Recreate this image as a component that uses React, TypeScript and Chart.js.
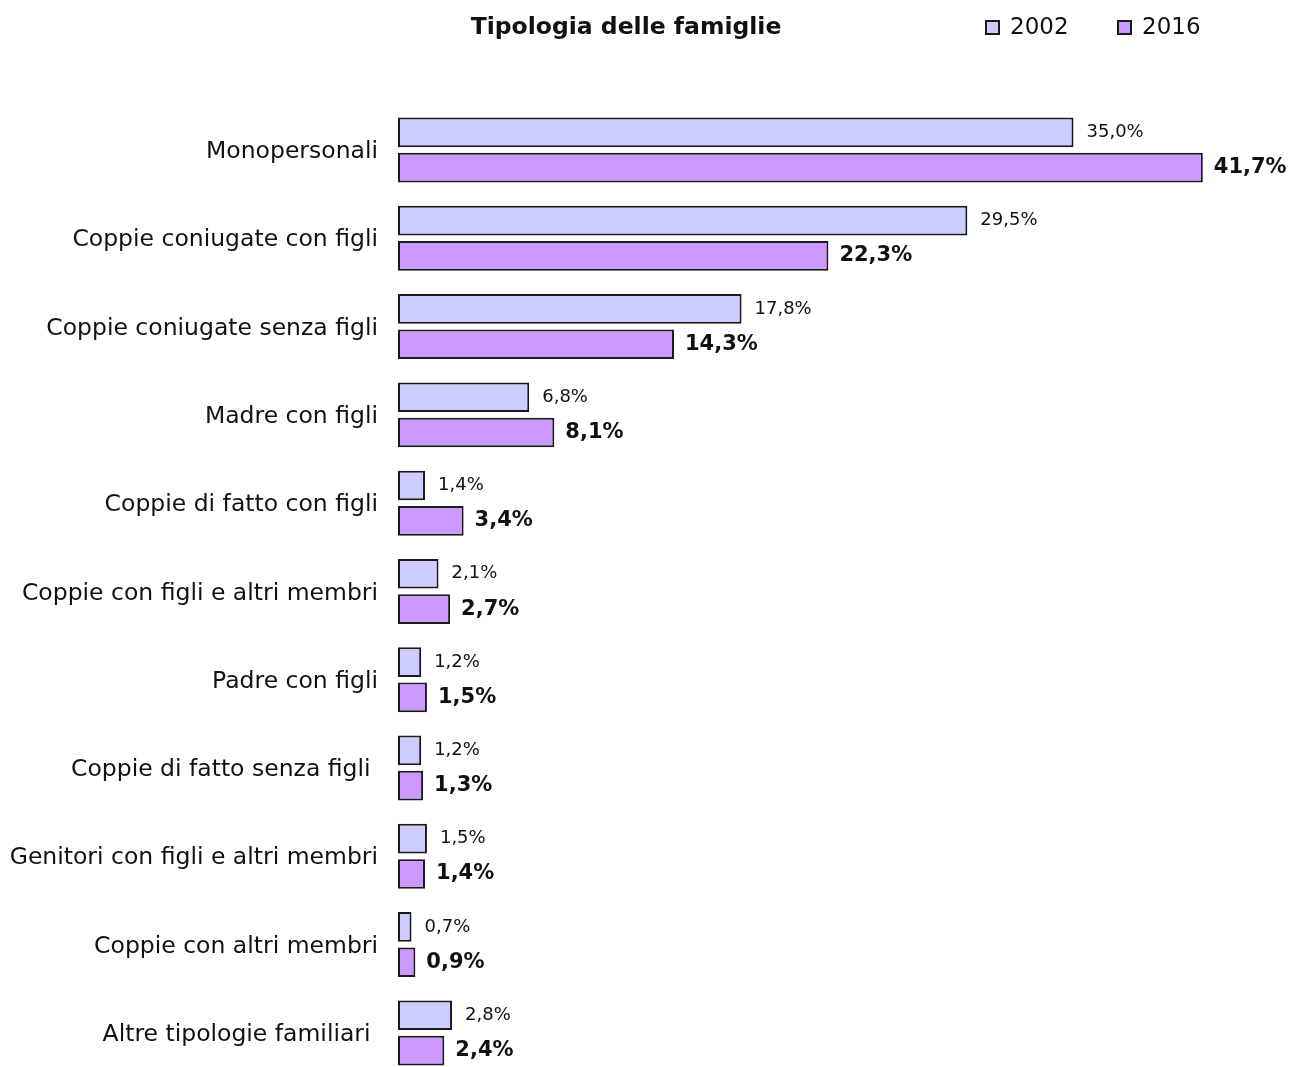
import React, { useEffect, useRef } from "react";
import { Chart, registerables } from "chart.js";

Chart.register(...registerables);

const TITLE = "Tipologia delle famiglie";
const CATEGORIES = [
  "Monopersonali",
  "Coppie coniugate con figli",
  "Coppie coniugate senza figli",
  "Madre con figli",
  "Coppie di fatto con figli",
  "Coppie con figli e altri membri",
  "Padre con figli",
  "Coppie di fatto senza figli ",
  "Genitori con figli e altri membri",
  "Coppie con altri membri",
  "Altre tipologie familiari ",
];
const SERIES_LABELS = ["2002", "2016"];
const VALUES_2002 = [35.0, 29.5, 17.8, 6.8, 1.4, 2.1, 1.2, 1.2, 1.5, 0.7, 2.8];
const VALUES_2016 = [41.7, 22.3, 14.3, 8.1, 3.4, 2.7, 1.5, 1.3, 1.4, 0.9, 2.4];

const COLORS = ["#CCCCFF", "#CC99FF"];
const BORDER = "#1a1a1a";
const FONT = "'DejaVu Sans', Verdana, sans-serif";

const overlayPlugin = {
  id: "overlay",
  afterDatasetsDraw(chart: any) {
    const ctx = chart.ctx;
    chart.data.datasets.forEach((ds: any, di: number) => {
      const meta = chart.getDatasetMeta(di);
      meta.data.forEach((el: any, i: number) => {
        const v = ds.data[i] as number;
        const txt = v.toFixed(1).replace(".", ",") + "%";
        ctx.save();
        ctx.font = di === 0 ? `18px ${FONT}` : `bold 21px ${FONT}`;
        ctx.fillStyle = "#111";
        ctx.textAlign = "left";
        ctx.textBaseline = "middle";
        ctx.fillText(txt, el.x + (di === 0 ? 13 : 11), el.y);
        ctx.restore();
      });
    });
  },
  afterDraw(chart: any) {
    const ctx = chart.ctx;
    ctx.save();
    ctx.fillStyle = "#111";
    ctx.textBaseline = "middle";
    ctx.font = `bold 23.5px ${FONT}`;
    ctx.textAlign = "center";
    ctx.fillText(TITLE, 626, 28);
    // legend
    const xs = [985, 1117];
    ctx.font = `23px ${FONT}`;
    ctx.textAlign = "left";
    chart.data.datasets.forEach((ds: any, di: number) => {
      const x = xs[di];
      ctx.fillStyle = ds.backgroundColor;
      ctx.fillRect(x, 20, 15, 15);
      ctx.strokeStyle = BORDER;
      ctx.lineWidth = 2;
      ctx.strokeRect(x + 1, 21, 13, 13);
      ctx.fillStyle = "#111";
      ctx.fillText(ds.label, x + 25, 28);
    });
    ctx.restore();
  },
};

export default function App() {
  const canvasRef = useRef<HTMLCanvasElement | null>(null);

  useEffect(() => {
    if (!canvasRef.current) return;
    const chart = new Chart(canvasRef.current, {
      type: "bar",
      data: {
        labels: CATEGORIES,
        datasets: [
          {
            label: SERIES_LABELS[0],
            data: VALUES_2002,
            backgroundColor: COLORS[0],
            borderColor: BORDER,
            borderWidth: 2,
            borderSkipped: false,
          },
          {
            label: SERIES_LABELS[1],
            data: VALUES_2016,
            backgroundColor: COLORS[1],
            borderColor: BORDER,
            borderWidth: 2,
            borderSkipped: false,
          },
        ],
      },
      options: {
        indexAxis: "y",
        animation: false,
        responsive: true,
        maintainAspectRatio: false,
        datasets: {
          bar: { categoryPercentage: 0.8, barPercentage: 0.84, clip: false as any },
        },
        layout: { padding: { top: 150, bottom: 32.5, left: 0, right: 28.5 } },
        plugins: {
          legend: { display: false },
          title: { display: false },
          tooltip: { enabled: false },
        },
        scales: {
          x: { display: false, min: 0, max: 45 },
          y: {
            offset: false,
            grid: { display: false, drawTicks: false },
            border: { display: false },
            ticks: {
              autoSkip: false,
              padding: 20,
              labelOffset: 2,
              color: "#111",
              font: { family: FONT, size: 23.5 },
            },
            afterFit: (scale: any) => {
              scale.width = 398;
            },
          },
        },
      },
      plugins: [overlayPlugin],
    });
    return () => chart.destroy();
  }, []);

  return (
    <div style={{ position: "absolute", left: 0, top: 0, width: 1295, height: 1067, background: "#fff" }}>
      <canvas ref={canvasRef} />
    </div>
  );
}
